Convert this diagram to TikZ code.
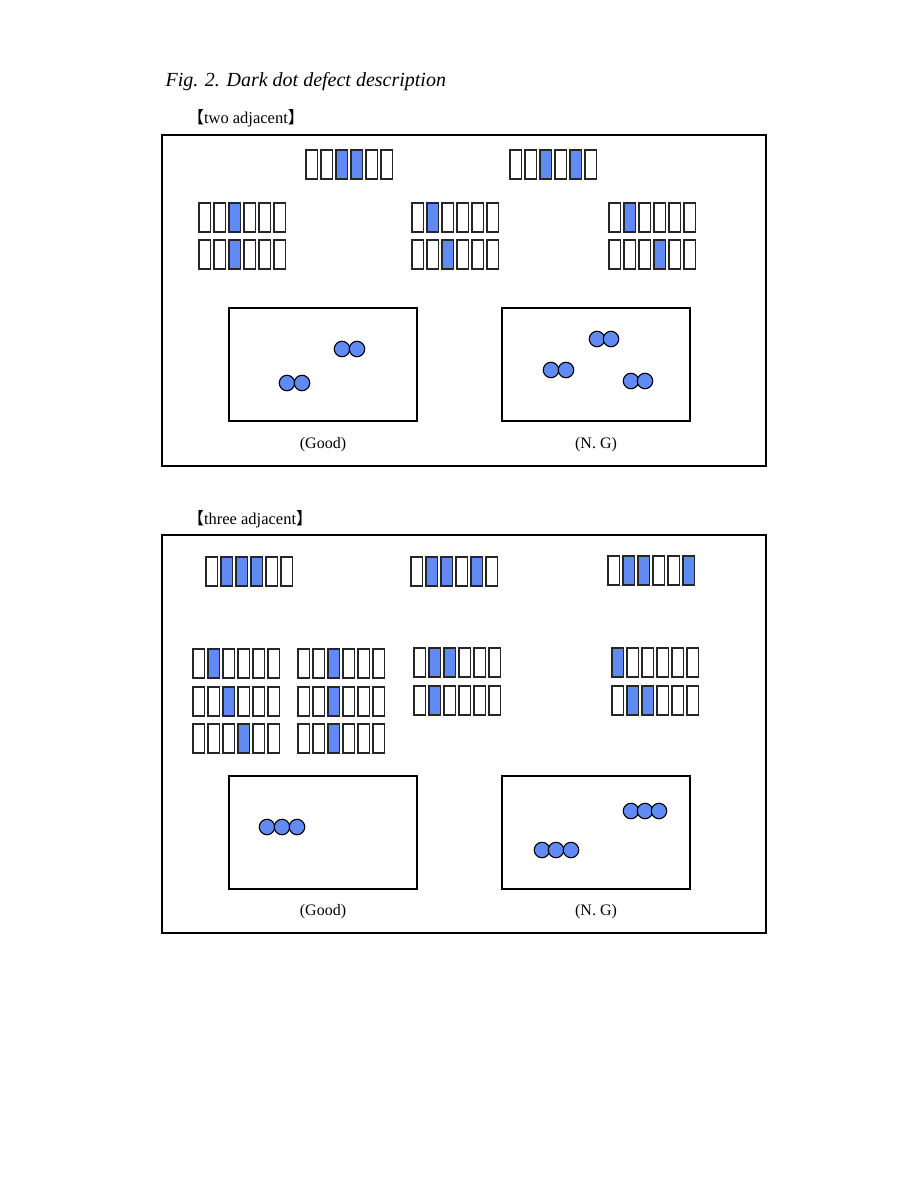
\documentclass[tikz,border=0pt]{standalone}
\usepackage{fontspec}
\setmainfont{Liberation Serif}
\newfontfamily\cjk{Noto Sans CJK SC}
\definecolor{dotblue}{RGB}{98,138,245}

% one row of six sub-pixels, #3 = the dark ones
\newcommand{\pixrow}[3]{%
  \foreach \c in {#3} {\fill[dotblue] ({#1+(\c-1)*15},#2) rectangle ++(11.5,29);}
  \foreach \c in {1,...,6} {\draw[cell] ({#1+(\c-1)*15},#2) rectangle ++(11.5,29);}
}

\begin{document}
\begin{tikzpicture}[x=1pt, y=-1pt,
  frame/.style={line width=1.6pt},
  cell/.style={line width=1.7pt, black!85},
  dot/.style={circle, draw, line width=1.1pt, fill=dotblue, minimum size=15.5pt, inner sep=0pt},
  caption/.style={font=\fontsize{16}{18}\selectfont},
  head/.style={anchor=west, font=\fontsize{16.5}{19}\selectfont}]
  \useasboundingbox (0,0) rectangle (918,1188);

  \node[anchor=west, font=\fontsize{20}{22}\selectfont\itshape] (title) at (162,82) {Fig. 2. Dark dot defect description};

  % two adjacent
  \node[head] (two) at (184,118) {{\cjk 【}two adjacent{\cjk 】}};
  \draw[frame] (162,135) rectangle (766,466);
  \pixrow{306}{150}{3,4}
  \pixrow{510}{150}{3,5}
  \pixrow{199}{203}{3}
  \pixrow{199}{240}{3}
  \pixrow{412}{203}{2}
  \pixrow{412}{240}{3}
  \pixrow{609}{203}{2}
  \pixrow{609}{240}{4}
  \draw[frame] (229,308) rectangle (417,421);
  \draw[frame] (502,308) rectangle (690,421);
  \node[dot] (ga1) at (342,349) {};
  \node[dot] (ga2) at (357,349) {};
  \node[dot] (gb1) at (287,383) {};
  \node[dot] (gb2) at (302,383) {};
  \node[dot] (na1) at (597,339) {};
  \node[dot] (na2) at (611,339) {};
  \node[dot] (nb1) at (551,370) {};
  \node[dot] (nb2) at (566,370) {};
  \node[dot] (nc1) at (631,381) {};
  \node[dot] (nc2) at (645,381) {};
  \node[caption] (good1) at (323,445) {(Good)};
  \node[caption] (ng1) at (596,445) {(N. G)};

  % three adjacent
  \node[head] (three) at (184,519) {{\cjk 【}three adjacent{\cjk 】}};
  \draw[frame] (162,535) rectangle (766,933);
  \pixrow{206}{557}{2,3,4}
  \pixrow{411}{557}{2,3,5}
  \pixrow{608}{556}{2,3,6}
  \pixrow{193}{649}{2}
  \pixrow{193}{687}{3}
  \pixrow{193}{724}{4}
  \pixrow{298}{649}{3}
  \pixrow{298}{687}{3}
  \pixrow{298}{724}{3}
  \pixrow{414}{648}{2,3}
  \pixrow{414}{686}{2}
  \pixrow{612}{648}{1}
  \pixrow{612}{686}{2,3}
  \draw[frame] (229,776) rectangle (417,889);
  \draw[frame] (502,776) rectangle (690,889);
  \node[dot] (gc1) at (267,827) {};
  \node[dot] (gc2) at (282,827) {};
  \node[dot] (gc3) at (297,827) {};
  \node[dot] (nd1) at (631,811) {};
  \node[dot] (nd2) at (645,811) {};
  \node[dot] (nd3) at (659,811) {};
  \node[dot] (ne1) at (542,850) {};
  \node[dot] (ne2) at (556,850) {};
  \node[dot] (ne3) at (571,850) {};
  \node[caption] (good2) at (323,912) {(Good)};
  \node[caption] (ng2) at (596,912) {(N. G)};
\end{tikzpicture}
\end{document}
